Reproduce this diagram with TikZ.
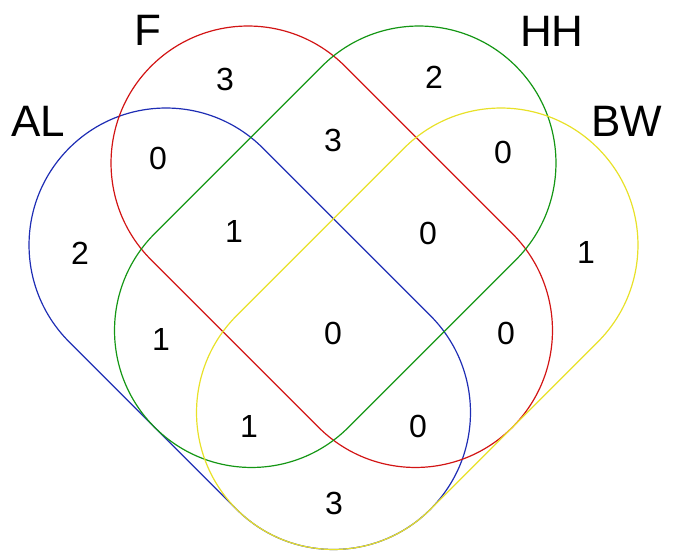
\documentclass[tikz,border=0pt]{standalone}
\usepackage{fontspec}
\setmainfont{Liberation Sans}
\definecolor{vblue}{RGB}{30,45,180}
\definecolor{vred}{RGB}{210,20,20}
\definecolor{vgreen}{RGB}{20,150,20}
\definecolor{vyellow}{RGB}{232,225,40}
\newcommand{\venstad}[4]{%
  \begin{scope}[shift={(#2,#3)},rotate=#4]
    \draw[setline,#1] (-118.4,-137) -- (118.4,-137)
      arc[start angle=-90,end angle=90,radius=137] -- (-118.4,137)
      arc[start angle=90,end angle=270,radius=137] -- cycle;
  \end{scope}}
\begin{document}
\begin{tikzpicture}[x=1pt,y=1pt,
  setline/.style={line width=1.2pt},
  num/.style={font=\fontsize{32}{38}\selectfont, inner sep=0pt},
  lab/.style={font=\fontsize{44}{50}\selectfont, inner sep=0pt}]
\useasboundingbox (0,0) rectangle (673,554);
\venstad{vblue}{249.75}{225.25}{-45}
\venstad{vred}{331.75}{307.25}{-45}
\venstad{vgreen}{335.25}{307.25}{45}
\venstad{vyellow}{417.25}{225.25}{45}
% set labels
\node[lab] (lAL) at (38,433) {AL};
\node[lab] (lF) at (148,524) {F};
\node[lab] (lHH) at (552,523) {HH};
\node[lab] (lBW) at (627,433) {BW};
% counts
\node[num] (n1) at (225,475) {3};
\node[num] (n2) at (434,477) {2};
\node[num] (n3) at (158,396) {0};
\node[num] (n4) at (333,414) {3};
\node[num] (n5) at (503,402) {0};
\node[num] (n6) at (80,301) {2};
\node[num] (n7) at (234,323) {1};
\node[num] (n8) at (428,321) {0};
\node[num] (n9) at (586,302) {1};
\node[num] (n10) at (161,215) {1};
\node[num] (n11) at (333,221) {0};
\node[num] (n12) at (506,221) {0};
\node[num] (n13) at (249,128) {1};
\node[num] (n14) at (418,128) {0};
\node[num] (n15) at (334,51) {3};
\end{tikzpicture}
\end{document}
